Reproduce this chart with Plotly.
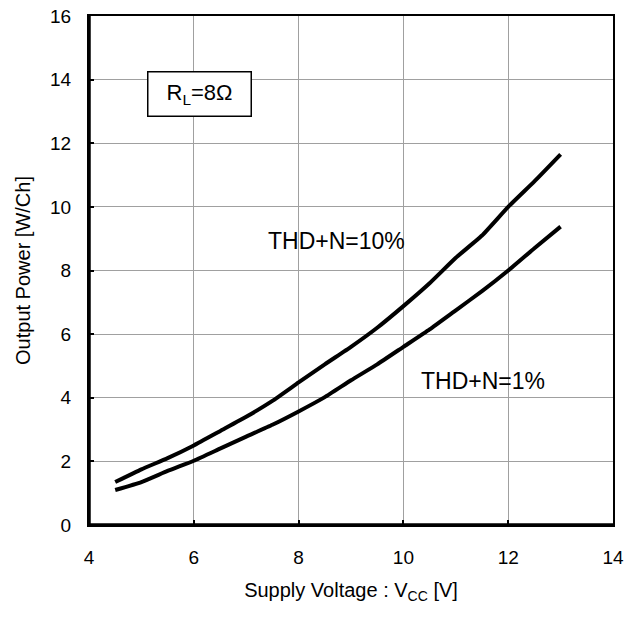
import plotly.graph_objects as go

vcc = [4.5, 5.0, 5.5, 6.0, 6.5, 7.0, 7.5, 8.0, 8.5, 9.0, 9.5, 10.0, 10.5, 11.0, 11.5, 12.0, 12.5, 13.0]
po_thd10 = [1.35, 1.75, 2.1, 2.5, 2.95, 3.4, 3.9, 4.48, 5.05, 5.6, 6.2, 6.88, 7.6, 8.4, 9.1, 10.0, 10.8, 11.65]
po_thd1 = [1.1, 1.35, 1.7, 2.02, 2.4, 2.78, 3.15, 3.57, 4.02, 4.55, 5.05, 5.6, 6.15, 6.75, 7.35, 8.0, 8.7, 9.38]

x_ticks = [4, 6, 8, 10, 12, 14]
y_ticks = [0, 2, 4, 6, 8, 10, 12, 14, 16]

FONT = "Liberation Sans, Arial, sans-serif"

fig = go.Figure()
fig.add_trace(go.Scatter(x=vcc, y=po_thd10, mode="lines", line=dict(color="black", width=4, shape="spline", smoothing=0.4), name="THD+N=10%"))
fig.add_trace(go.Scatter(x=vcc, y=po_thd1, mode="lines", line=dict(color="black", width=4, shape="spline", smoothing=0.4), name="THD+N=1%"))

fig.update_layout(
    width=636, height=617,
    margin=dict(l=89, r=23, t=16, b=92),
    paper_bgcolor="white", plot_bgcolor="white",
    showlegend=False,
    font=dict(family=FONT, size=19, color="black"),
)
axis_common = dict(
    showgrid=True, gridcolor="#a0a0a0", gridwidth=1,
    showline=True, linecolor="black", linewidth=2, mirror=True,
    ticks="inside", ticklen=5, tickwidth=1.5, tickcolor="black",
    zeroline=False, automargin=False, ticklabeloverflow="allow",
    tickfont=dict(family=FONT, size=19, color="black"),
)
fig.update_xaxes(range=[4, 14], tickvals=x_ticks, ticklabelstandoff=14, **axis_common,
                 title=dict(text="Supply Voltage : V<sub>CC</sub> [V]", font=dict(family=FONT, size=20), standoff=16))
fig.update_yaxes(range=[0, 16], tickvals=y_ticks, ticklabelstandoff=12, **axis_common,
                 title=dict(text="Output Power [W/Ch]", font=dict(family=FONT, size=20), standoff=14))

# thicker left and bottom axis lines
fig.add_shape(type="line", xref="paper", yref="paper", x0=0, x1=0, y0=0, y1=1, line=dict(color="black", width=3.5))
fig.add_shape(type="line", xref="paper", yref="paper", x0=0, x1=1, y0=0, y1=0, line=dict(color="black", width=3.5))

fig.add_annotation(x=8.73, y=8.93, text="THD+N=10%", showarrow=False, font=dict(family=FONT, size=23))
fig.add_annotation(x=11.52, y=4.53, text="THD+N=1%", showarrow=False, font=dict(family=FONT, size=23))
fig.add_annotation(x=6.11, y=13.55, text="R<sub>L</sub>=8Ω", showarrow=False, font=dict(family=FONT, size=22),
                   width=86, height=27, align="center", valign="middle",
                   bordercolor="black", borderwidth=1.5, borderpad=8, bgcolor="white")

fig.write_html("out.html", config={"displayModeBar": False},
               post_script="document.body.style.margin='0';")
